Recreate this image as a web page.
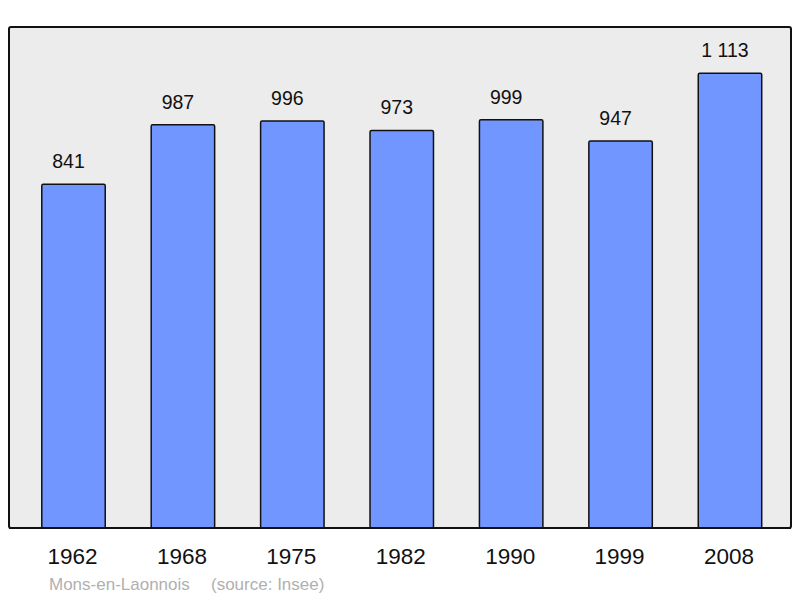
<!DOCTYPE html>
<html>
<head>
<meta charset="utf-8">
<script src="https://cdn.jsdelivr.net/npm/d3@7"></script>
<style>
  body { margin: 0; background: #fff; }
  text { font-family: "Liberation Sans", Arial, sans-serif; }
</style>
</head>
<body>
<div id="chart"></div>
<script>
var years = ['1962', '1968', '1975', '1982', '1990', '1999', '2008'];
var population = [841, 987, 996, 973, 999, 947, 1113];
var commune = 'Mons-en-Laonnois';
var source = '(source: Insee)';

var width = 800;
var height = 598;
var panel = {left: 9, top: 27, right: 791, bottom: 528};

var svg = d3
    .select('#chart')
    .append('svg')
    .attr('width', width)
    .attr('height', height);

svg.append('rect')
    .attr('x', panel.left)
    .attr('y', panel.top)
    .attr('width', panel.right - panel.left)
    .attr('height', panel.bottom - panel.top)
    .attr('rx', 2)
    .attr('fill', '#ececec')
    .attr('stroke', '#111')
    .attr('stroke-width', 2);

var xScale = d3
    .scaleBand()
    .domain(years)
    .range([18.8, 784.7])
    .paddingInner(0.42)
    .paddingOuter(0.21);

var yScale = d3
    .scaleLinear()
    .domain([0, 1226])
    .range([panel.bottom, panel.top]);

var fmt = d3.formatLocale({decimal: ',', thousands: '\u00a0', grouping: [3], currency: ['', '']}).format(',d');

var data = years.map((y, i) => ({year: y, value: population[i]}));

svg.selectAll('rect.bar')
    .data(data)
    .enter()
    .append('rect')
    .attr('class', 'bar')
    .attr('x', d => xScale(d.year))
    .attr('y', d => yScale(d.value))
    .attr('width', xScale.bandwidth())
    .attr('height', d => panel.bottom - yScale(d.value))
    .attr('rx', 1.5)
    .attr('fill', '#7196ff')
    .attr('stroke', '#111')
    .attr('stroke-width', 1.5);

svg.selectAll('text.val')
    .data(data)
    .enter()
    .append('text')
    .attr('class', 'val')
    .attr('x', d => xScale(d.year) + xScale.bandwidth() / 2 - 5)
    .attr('y', d => yScale(d.value) - 16)
    .attr('text-anchor', 'middle')
    .attr('font-size', 19.5)
    .attr('fill', '#111')
    .text(d => fmt(d.value));

// redraw the panel border on top of the bar bottoms
svg.append('line')
    .attr('x1', panel.left)
    .attr('x2', panel.right)
    .attr('y1', panel.bottom)
    .attr('y2', panel.bottom)
    .attr('stroke', '#111')
    .attr('stroke-width', 2);

svg.selectAll('text.year')
    .data(years)
    .enter()
    .append('text')
    .attr('class', 'year')
    .attr('x', d => xScale(d) + xScale.bandwidth() / 2 - 1)
    .attr('y', 564)
    .attr('text-anchor', 'middle')
    .attr('font-size', 22.5)
    .attr('fill', '#111')
    .text(d => d);

svg.append('text')
    .attr('x', 49)
    .attr('y', 590)
    .attr('font-size', 17)
    .attr('fill', '#b0b0b0')
    .text(commune);

svg.append('text')
    .attr('x', 211)
    .attr('y', 590)
    .attr('font-size', 17)
    .attr('fill', '#b0b0b0')
    .text(source);
</script>
</body>
</html>
